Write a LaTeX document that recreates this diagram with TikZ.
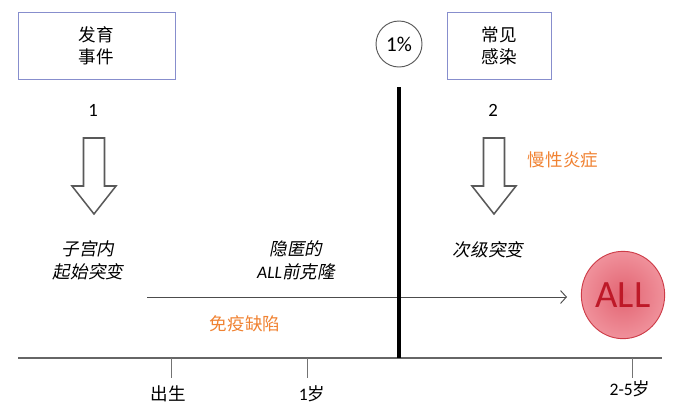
\documentclass[tikz,border=0pt]{standalone}
\usepackage{fontspec}
\setmainfont{Noto Sans CJK SC}
\newfontfamily\lat{Carlito}
\newfontfamily\cjkit[FakeSlant=0.2]{Noto Sans CJK SC}
\usetikzlibrary{arrows.meta,shapes.geometric}
\definecolor{boxline}{RGB}{135,142,205}
\definecolor{inflam}{RGB}{240,130,50}
\definecolor{allred}{RGB}{190,25,40}
\definecolor{allin}{RGB}{226,100,114}
\definecolor{allout}{RGB}{240,145,155}

\begin{document}
\begin{tikzpicture}[x=0.03cm,y=-0.03cm,>=Stealth,
  event/.style={draw=boxline,thick,minimum height=2.01cm,align=center,
    font=\fontsize{15}{19}\selectfont},
  stage/.style={align=center,font=\cjkit\fontsize{15}{19.5}\selectfont},
  orange text/.style={text=inflam,font=\fontsize{15}{19}\selectfont},
  age/.style={font=\fontsize{15}{19}\selectfont}]
  \useasboundingbox (0,0) rectangle (682,408);

  % events on top
  \node[event,minimum width=4.71cm] (dev) at (96.5,45.5) {发育\\事件};
  \node[event,minimum width=3.12cm] (inf) at (499,45.5) {常见\\感染};
  \node[draw=black!65,thick,circle,minimum size=1.38cm,
    font=\lat\fontsize{18}{20}\selectfont] (pct) at (399,44) {1\%};
  \node[font=\lat\fontsize{16}{19}\selectfont] (one) at (93,110) {1};
  \node[font=\lat\fontsize{16}{19}\selectfont] (two) at (493,110) {2};

  % hollow arrows
  \foreach \x in {94,494}
    \draw[black!65,line width=1.3pt,fill=white]
      (\x-10.5,138) -- (\x+10.5,138) -- (\x+10.5,186) -- (\x+22,186)
      -- (\x,214) -- (\x-22,186) -- (\x-10.5,186) -- cycle;

  \node[orange text] (chronic) at (563,160) {慢性炎症};

  % stages
  \node[stage] (utero) at (88,260) {子宫内\\起始突变};
  \node[stage] (clone) at (296,260) {隐匿的\\{\lat\itshape ALL}前克隆};
  \node[stage] (second) at (488,250) {次级突变};

  \node[draw={rgb,255:red,205;green,60;blue,72},thick,ellipse,inner sep=0pt,
    minimum width=2.5cm,minimum height=2.62cm,
    shading=radial,inner color=allin,outer color=allout,
    text=allred,font=\lat\fontsize{33}{36}\selectfont] (all) at (623,295) {ALL};

  \coordinate (start) at (147,297);
  \draw[->,black!70,thick,-{Straight Barb[length=5pt,width=11pt]}]
    (start) -- (start -| 567,0);

  \node[orange text] (immune) at (245,324) {免疫缺陷};

  % timeline
  \coordinate (top) at (399,87);
  \coordinate (bottom) at (399,358);
  \coordinate (axl) at (18,358);
  \coordinate (axr) at (662,358);
  \draw[black!60,line width=1.3pt] (axl) -- (axr);
  \draw[line width=2.6pt] (top) -- (bottom);

  \node[age] (birth) at (168,394) {出生};
  \node[age] (year) at (312,394) {{\lat 1}岁};
  \node[age] (later) at (630,389) {{\lat 2-5}岁};
  \foreach \x in {171,307,632}
    \draw[black!55,thick] (\x,358) -- (\x,378);
\end{tikzpicture}
\end{document}
